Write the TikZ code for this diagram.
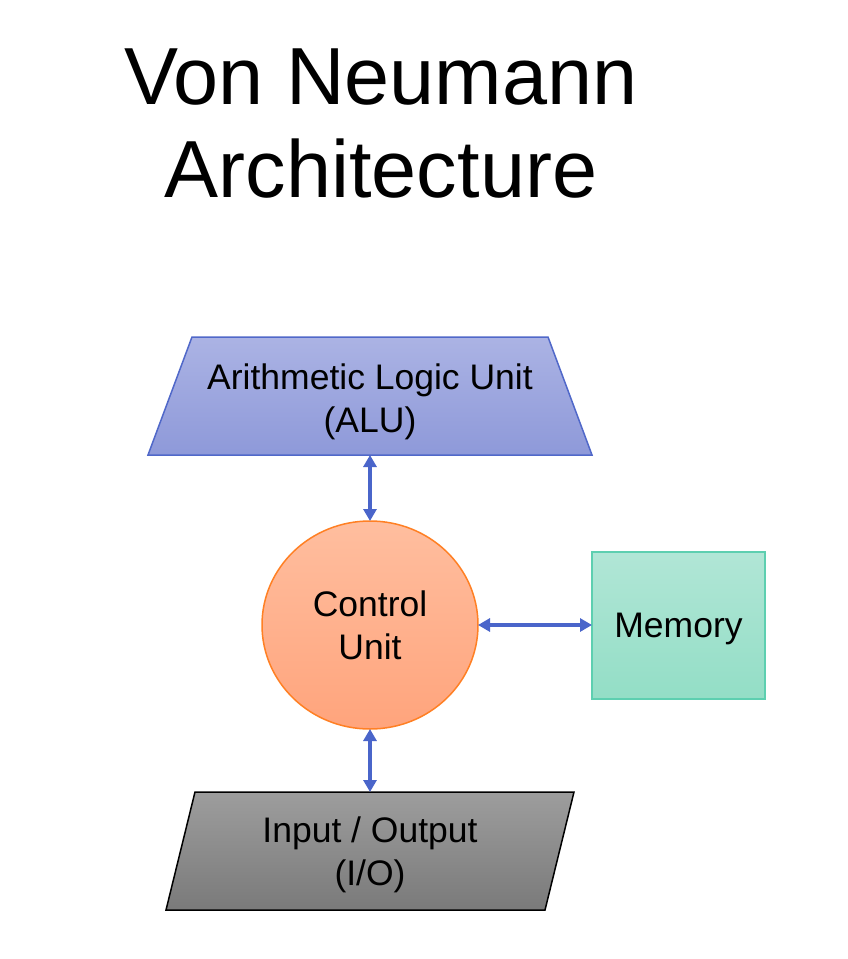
\documentclass[tikz,border=0pt]{standalone}
\usepackage{fontspec}
\setmainfont{Liberation Sans}
\usetikzlibrary{arrows.meta,shapes.geometric,calc}
\definecolor{aluTop}{HTML}{ABB3E4}
\definecolor{aluBot}{HTML}{8E99D9}
\definecolor{aluLine}{HTML}{5068C9}
\definecolor{cuTop}{HTML}{FFBE9F}
\definecolor{cuBot}{HTML}{FFA47C}
\definecolor{cuLine}{HTML}{FF8024}
\definecolor{memTop}{HTML}{B1E6D6}
\definecolor{memBot}{HTML}{93DEC6}
\definecolor{memLine}{HTML}{5DCFB0}
\definecolor{ioTop}{HTML}{9D9D9D}
\definecolor{ioBot}{HTML}{7A7A7A}
\definecolor{arrowCol}{HTML}{4A65CA}
\tikzset{
  bodytext/.style={font=\fontsize{35.5}{43}\selectfont, align=center, inner sep=0pt, outer sep=0pt},
  link/.style={draw=arrowCol, line width=3.2pt, {Triangle[length=12pt,width=13pt]}-{Triangle[length=12pt,width=13pt]}},
}
\begin{document}
\begin{tikzpicture}[x=1pt,y=-1pt]
\useasboundingbox[fill=white] (0,0) rectangle (847,959);
% title
\node[font=\fontsize{81}{93}\selectfont, align=center, inner sep=0pt] (title) at (381,124) {Von Neumann\\Architecture};
% ALU trapezoid
\node[bodytext, minimum width=444pt, minimum height=118pt] (alu) at (370,396) {};
\shade[top color=aluTop, bottom color=aluBot, draw=aluLine, line width=1.5pt]
  ($(alu.north west)+(44,0)$) -- ($(alu.north east)+(-44,0)$) -- (alu.south east) -- (alu.south west) -- cycle;
\node[bodytext] (alutext) at ($(alu.center)+(0,6)$) {Arithmetic Logic Unit\\(ALU)};
% Control unit
\node[ellipse, minimum width=216pt, minimum height=208pt, top color=cuTop, bottom color=cuBot, draw=cuLine, line width=1.5pt, outer sep=0pt] (cu) at (370,625) {};
\node[bodytext] (cutext) at (cu.center) {Control\\Unit};
% Memory
\node[rectangle, minimum width=173pt, minimum height=147pt, top color=memTop, bottom color=memBot, draw=memLine, line width=2pt, outer sep=0pt] (mem) at (678.5,625) {};
\node[bodytext] (memtext) at ($(mem.center)+(0,4)$) {Memory};
% I/O parallelogram
\node[bodytext, minimum width=408pt, minimum height=118pt] (io) at (370,851) {};
\shade[top color=ioTop, bottom color=ioBot, draw=black, line width=1.5pt]
  ($(io.north west)+(29,0)$) -- (io.north east) -- ($(io.south east)+(-29,0)$) -- (io.south west) -- cycle;
\node[bodytext] (iotext) at ($(io.center)+(0,4)$) {Input / Output\\(I/O)};
% connectors
\draw[link] (alu.south) -- (cu.north);
\draw[link] (cu.south) -- (io.north);
\draw[link] (cu.east) -- (mem.west);
\end{tikzpicture}
\end{document}
